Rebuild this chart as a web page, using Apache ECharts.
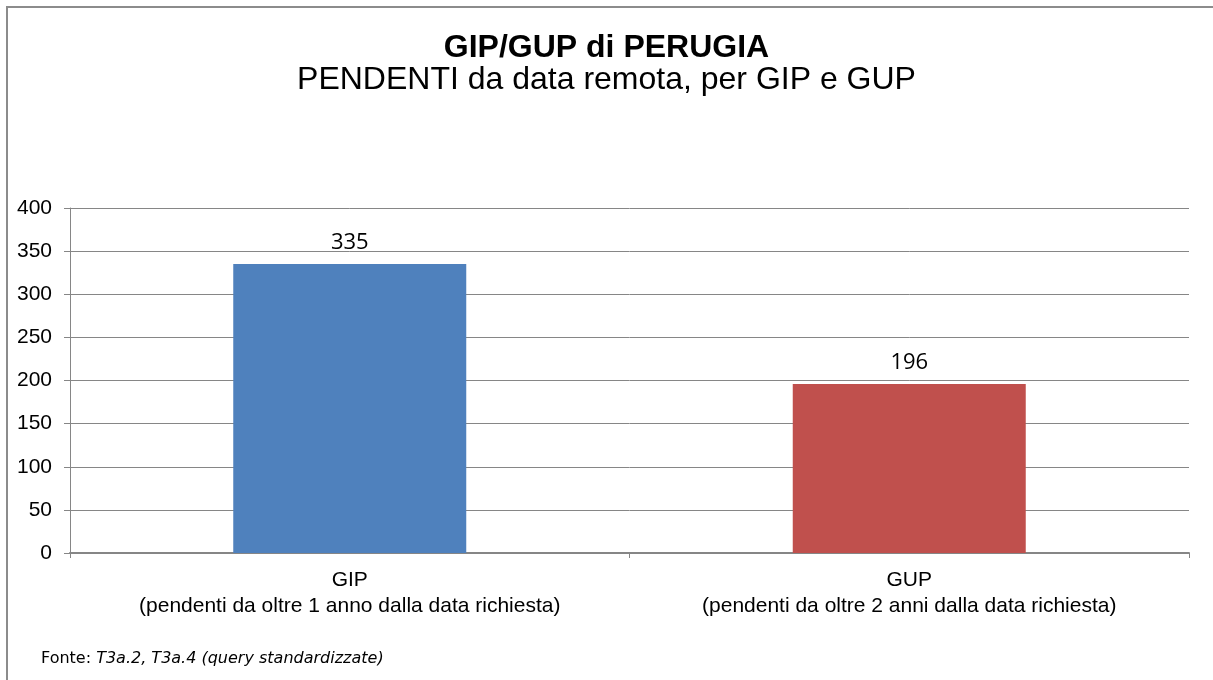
<!DOCTYPE html>
<html>
<head>
<meta charset="utf-8">
<script src="https://cdn.jsdelivr.net/npm/echarts@6/dist/echarts.min.js"></script>
<style>
html,body{margin:0;padding:0;background:#fff;}
#c{width:1213px;height:680px;}
</style>
</head>
<body>
<div id="c"></div>
<script>
var titleText = 'GIP/GUP di PERUGIA';
var subtitleText = 'PENDENTI da data remota, per GIP e GUP';
var categories = ['GIP\n(pendenti da oltre 1 anno dalla data richiesta)', 'GUP\n(pendenti da oltre 2 anni dalla data richiesta)'];
var values = [335, 196];
var barColors = ['#4F81BD', '#C0504D'];
var yTicks = [0, 50, 100, 150, 200, 250, 300, 350, 400];

var chart = echarts.init(document.getElementById('c'));
chart.setOption({
  backgroundColor: '#fff',
  animation: false,
  title: [{
    text: titleText,
    left: 'center', top: 27,
    textStyle: {fontFamily: 'Liberation Sans, Arial', fontSize: 32, fontWeight: 'bold', color: '#000'}
  }, {
    text: subtitleText,
    left: 'center', top: 59,
    textStyle: {fontFamily: 'Liberation Sans, Arial', fontSize: 32, fontWeight: 'normal', color: '#000'}
  }],
  graphic: [{
    type: 'polyline',
    shape: {points: [[7, 690], [7, 7], [1220, 7]]},
    style: {stroke: '#8c8c8c', lineWidth: 2, fill: null}
  }, {
    type: 'text',
    left: 41, top: 651,
    style: {
      text: '{n|Fonte: }{i|T3a.2, T3a.4 (query standardizzate)}',
      rich: {
        n: {fontFamily: 'DejaVu Sans', fontSize: 16, fill: '#000'},
        i: {fontFamily: 'DejaVu Sans', fontSize: 16, fontStyle: 'italic', fill: '#000'}
      }
    }
  }],
  grid: {left: 70, right: 24, top: 208, bottom: 127, containLabel: false},
  xAxis: {
    type: 'category',
    data: categories,
    axisLine: {lineStyle: {color: '#868686', width: 2}},
    axisTick: {show: true, length: 5, lineStyle: {color: '#868686'}},
    axisLabel: {
      fontFamily: 'Liberation Sans, Arial', fontSize: 21, color: '#000',
      lineHeight: 26, margin: 14, interval: 0
    }
  },
  yAxis: {
    type: 'value',
    min: 0, max: 400, interval: 50,
    axisLine: {show: true, lineStyle: {color: '#868686', width: 1}},
    axisTick: {show: true, length: 6, lineStyle: {color: '#868686'}},
    splitLine: {lineStyle: {color: '#868686', width: 1}},
    axisLabel: {fontFamily: 'Liberation Sans, Arial', fontSize: 21, color: '#000', margin: 18}
  },
  series: [{
    type: 'bar',
    data: values.map(function (v, i) { return {value: v, itemStyle: {color: barColors[i]}}; }),
    barWidth: 233,
    label: {
      show: true, position: 'top', distance: 10,
      fontFamily: 'Open Sans, Carlito, Liberation Sans', fontSize: 22, color: '#000'
    }
  }]
});
</script>
</body>
</html>
